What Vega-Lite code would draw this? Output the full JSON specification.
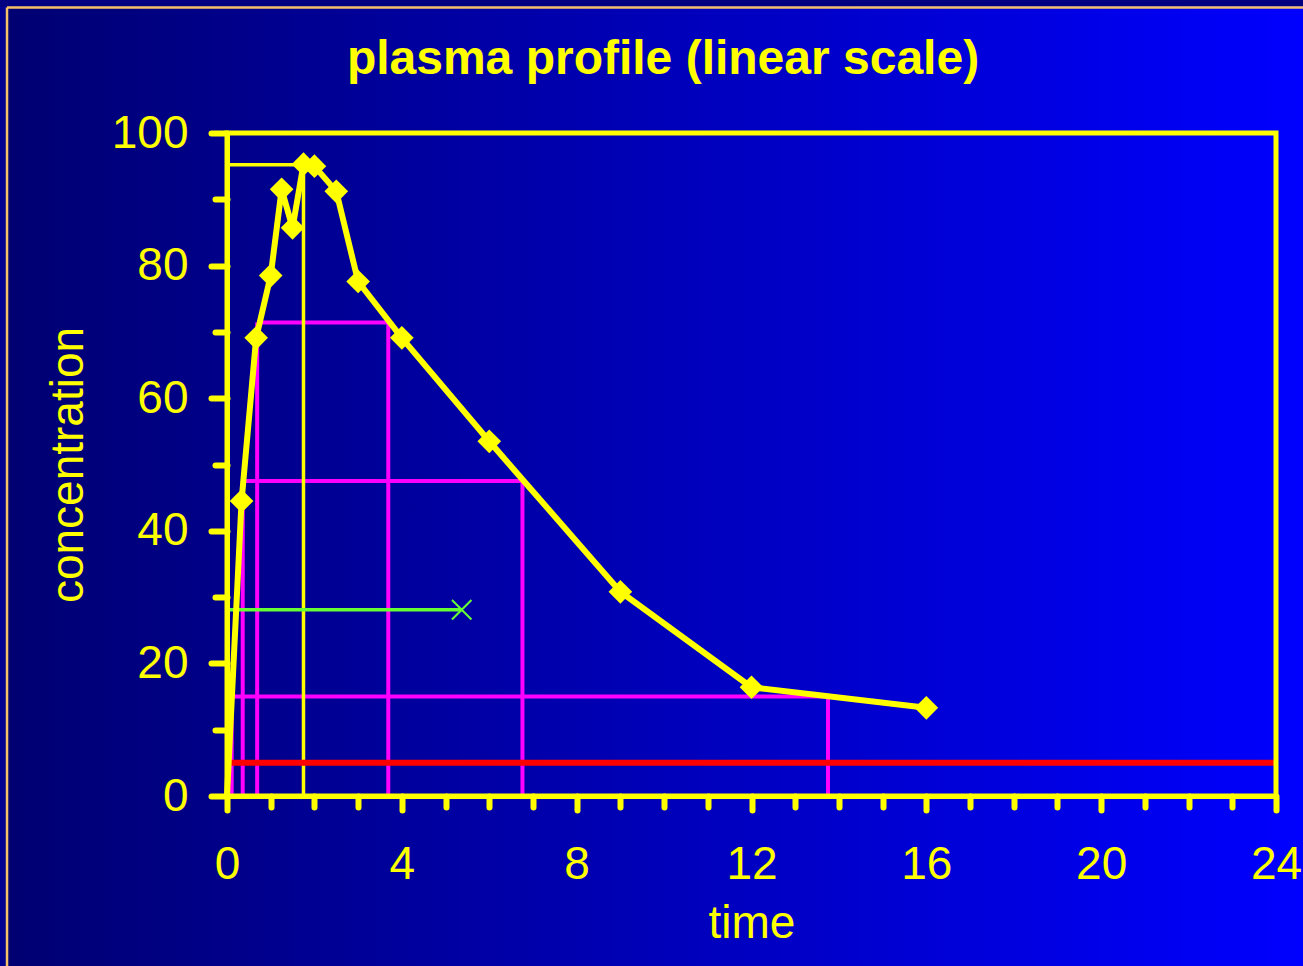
{
  "$schema": "https://vega.github.io/schema/vega-lite/v6.json",
  "width": 1049,
  "height": 663,
  "autosize": {"type": "none"},
  "padding": {"left": 227, "top": 133, "right": 27, "bottom": 170},
  "background": "#000070",
  "title": {
    "text": "plasma profile (linear scale)",
    "font": "Liberation Sans",
    "fontSize": 48,
    "fontWeight": "bold",
    "color": "#ffff00",
    "anchor": "middle",
    "frame": "group",
    "dx": -88.5,
    "baseline": "alphabetic",
    "offset": -123,
    "zindex": 1
  },
  "config": {
    "view": {"stroke": null},
    "axis": {
      "labelFont": "Liberation Sans",
      "labelFontSize": 46,
      "labelColor": "#ffff00",
      "titleFont": "Liberation Sans",
      "titleFontSize": 46,
      "titleFontWeight": "normal",
      "titleColor": "#ffff00",
      "tickColor": "#ffff00",
      "tickWidth": 6,
      "tickCap": "round",
      "domainColor": "#ffff00",
      "domainWidth": 5,
      "domainCap": "round",
      "grid": false,
      "labelOverlap": false,
      "labelBound": false,
      "labelFlush": false
    }
  },
  "datasets": {
    "one": [{"row": 1}],
    "profile": [
      {"time": 0, "conc": 0},
      {"time": 0.333, "conc": 44.5},
      {"time": 0.667, "conc": 69.1},
      {"time": 1, "conc": 78.5},
      {"time": 1.25, "conc": 91.5},
      {"time": 1.5, "conc": 85.7},
      {"time": 1.75, "conc": 95.3},
      {"time": 2, "conc": 95.0},
      {"time": 2.5, "conc": 91.2},
      {"time": 3, "conc": 77.6},
      {"time": 4, "conc": 69.1},
      {"time": 6, "conc": 53.5},
      {"time": 9, "conc": 30.8},
      {"time": 12, "conc": 16.4},
      {"time": 16, "conc": 13.3}
    ],
    "segments": [
      {"kind": "level", "x": 0.69, "x2": 3.69, "y": 71.4, "y2": 71.4},
      {"kind": "level", "x": 0.69, "x2": 0.69, "y": 0, "y2": 71.4},
      {"kind": "level", "x": 3.69, "x2": 3.69, "y": 0, "y2": 71.4},
      {"kind": "level", "x": 0.36, "x2": 6.76, "y": 47.5, "y2": 47.5},
      {"kind": "level", "x": 0.36, "x2": 0.36, "y": 0, "y2": 47.5},
      {"kind": "level", "x": 6.76, "x2": 6.76, "y": 0, "y2": 47.5},
      {"kind": "level", "x": 0.107, "x2": 13.75, "y": 15, "y2": 15},
      {"kind": "level", "x": 0.107, "x2": 0.107, "y": 0, "y2": 15},
      {"kind": "level", "x": 13.75, "x2": 13.75, "y": 0, "y2": 15},
      {"kind": "peak", "x": 0, "x2": 1.75, "y": 95.2, "y2": 95.2},
      {"kind": "peak", "x": 1.75, "x2": 1.75, "y": 0, "y2": 95.2},
      {"kind": "mrt", "x": 0, "x2": 5.37, "y": 28.1, "y2": 28.1},
      {"kind": "mec", "x": 0, "x2": 24, "y": 5, "y2": 5}
    ],
    "mrtpoint": [
      {"x": 5.37, "y": 28.1}
    ]
  },
  "layer": [
    {
      "data": {"name": "one"},
      "mark": {
        "type": "rect",
        "fill": {
          "gradient": "linear",
          "x1": 0, "y1": 0, "x2": 1, "y2": 0,
          "stops": [
            {"offset": 0, "color": "#000070"},
            {"offset": 1, "color": "#0000ff"}
          ]
        }
      },
      "encoding": {
        "x": {"datum": -5.3, "type": "quantitative", "scale": {"domain": [0, 24], "nice": false, "zero": false}},
        "x2": {"datum": 24.7},
        "y": {"datum": -26, "type": "quantitative", "scale": {"domain": [0, 100], "nice": false, "zero": false}},
        "y2": {"datum": 120.2}
      }
    },
    {
      "data": {"name": "one"},
      "mark": {"type": "rect", "fill": "#000080"},
      "encoding": {
        "x": {"datum": -5.3, "type": "quantitative"},
        "x2": {"datum": 24.7},
        "y": {"datum": 119.1, "type": "quantitative"},
        "y2": {"datum": 120.2}
      }
    },
    {
      "data": {"name": "one"},
      "mark": {"type": "rect", "fill": "#000090"},
      "encoding": {
        "x": {"datum": -5.3, "type": "quantitative"},
        "x2": {"datum": -5.06},
        "y": {"datum": -26, "type": "quantitative"},
        "y2": {"datum": 119.1}
      }
    },
    {
      "data": {"name": "one"},
      "mark": {"type": "rule", "color": "#f5c06a", "strokeWidth": 2.5},
      "encoding": {
        "x": {"datum": -5.033, "type": "quantitative"},
        "x2": {"datum": 24.7},
        "y": {"datum": 118.94, "type": "quantitative"}
      }
    },
    {
      "data": {"name": "one"},
      "mark": {"type": "rule", "color": "#f5c06a", "strokeWidth": 2.5},
      "encoding": {
        "x": {"datum": -5.033, "type": "quantitative"},
        "y": {"datum": -26, "type": "quantitative"},
        "y2": {"datum": 118.94}
      }
    },
    {
      "data": {"name": "segments"},
      "transform": [{"filter": "datum.kind === 'level'"}],
      "mark": {"type": "rule", "color": "#ff00ff", "strokeWidth": 4},
      "encoding": {
        "x": {"field": "x", "type": "quantitative"},
        "x2": {"field": "x2"},
        "y": {"field": "y", "type": "quantitative"},
        "y2": {"field": "y2"}
      }
    },
    {
      "data": {"name": "segments"},
      "transform": [{"filter": "datum.kind === 'peak'"}],
      "mark": {"type": "rule", "color": "#ffff00", "strokeWidth": 3.5},
      "encoding": {
        "x": {"field": "x", "type": "quantitative"},
        "x2": {"field": "x2"},
        "y": {"field": "y", "type": "quantitative"},
        "y2": {"field": "y2"}
      }
    },
    {
      "data": {"name": "segments"},
      "transform": [{"filter": "datum.kind === 'mrt'"}],
      "mark": {"type": "rule", "color": "#66ff33", "strokeWidth": 3.5},
      "encoding": {
        "x": {"field": "x", "type": "quantitative"},
        "x2": {"field": "x2"},
        "y": {"field": "y", "type": "quantitative"},
        "y2": {"field": "y2"}
      }
    },
    {
      "data": {"name": "mrtpoint"},
      "mark": {"type": "point", "shape": "M-1,-1L1,1M-1,1L1,-1", "filled": false, "color": "#66ff33", "strokeWidth": 2, "size": 380, "opacity": 1},
      "encoding": {
        "x": {"field": "x", "type": "quantitative"},
        "y": {"field": "y", "type": "quantitative"}
      }
    },
    {
      "data": {"name": "segments"},
      "transform": [{"filter": "datum.kind === 'mec'"}],
      "mark": {"type": "rule", "color": "#ff0000", "strokeWidth": 6},
      "encoding": {
        "x": {"field": "x", "type": "quantitative"},
        "x2": {"field": "x2"},
        "y": {"field": "y", "type": "quantitative"},
        "y2": {"field": "y2"}
      }
    },
    {
      "data": {"name": "one"},
      "mark": {"type": "rect", "filled": false, "stroke": "#ffff00", "strokeWidth": 5},
      "encoding": {
        "x": {"datum": 0, "type": "quantitative"},
        "x2": {"datum": 24},
        "y": {"datum": 0, "type": "quantitative"},
        "y2": {"datum": 100}
      }
    },
    {
      "data": {"name": "profile"},
      "mark": {"type": "line", "color": "#ffff00", "strokeWidth": 6},
      "encoding": {
        "x": {
          "field": "time",
          "type": "quantitative",
          "axis": {
            "title": "time",
            "zindex": 2,
            "values": [0,1,2,3,4,5,6,7,8,9,10,11,12,13,14,15,16,17,18,19,20,21,22,23,24],
            "labelExpr": "datum.value % 4 === 0 ? datum.label : ''",
            "tickSize": {"condition": {"test": "datum.value % 4 === 0", "value": 14}, "value": 11},
            "labelBaseline": "alphabetic",
            "labelPadding": 68,
            "titleY": 141,
            "titleBaseline": "alphabetic"
          }
        },
        "y": {
          "field": "conc",
          "type": "quantitative",
          "axis": {
            "title": "concentration",
            "zindex": 2,
            "values": [0,5,10,15,20,25,30,35,40,45,50,55,60,65,70,75,80,85,90,95,100],
            "labelExpr": "datum.value % 20 === 0 ? datum.label : ''",
            "tickSize": {"condition": {"test": "datum.value % 20 === 0", "value": 16}, "value": 12},
            "labelBaseline": "middle",
            "labelPadding": 23,
            "titleX": -145,
            "titleY": 331.5,
            "titleAngle": 270,
            "titleBaseline": "alphabetic"
          }
        }
      }
    },
    {
      "data": {"name": "profile"},
      "transform": [{"filter": "datum.time > 0"}],
      "mark": {"type": "point", "shape": "diamond", "filled": true, "color": "#ffff00", "size": 560, "opacity": 1},
      "encoding": {
        "x": {"field": "time", "type": "quantitative"},
        "y": {"field": "conc", "type": "quantitative"}
      }
    }
  ]
}
